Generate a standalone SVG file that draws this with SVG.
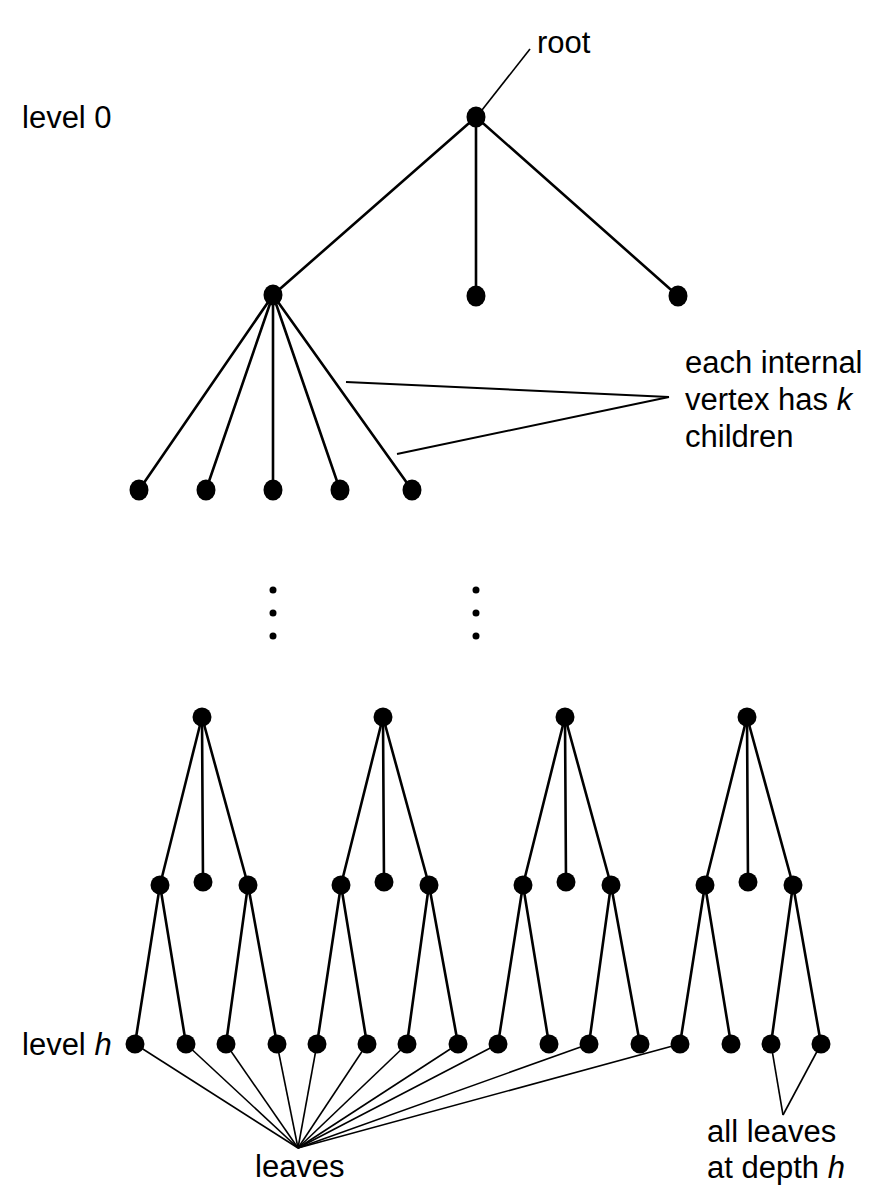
<svg xmlns="http://www.w3.org/2000/svg" width="896" height="1200" viewBox="0 0 896 1200">
<style>
.e{stroke:#000;stroke-width:2.6;fill:none;stroke-linecap:round}
.t{stroke:#000;stroke-width:1.6;fill:none}
.a{stroke:#000;stroke-width:2;fill:none}
.n{fill:#000}
text{font-family:"Liberation Sans",Arial,sans-serif;font-size:31px;fill:#000}
</style>
<rect width="896" height="1200" fill="#fff"/>
<g id="connectors">
<line class="e" x1="476" y1="117" x2="273" y2="295"/>
<line class="e" x1="476" y1="117" x2="476" y2="296"/>
<line class="e" x1="476" y1="117" x2="678" y2="296"/>
<line class="e" x1="273" y1="295" x2="139" y2="490"/>
<line class="e" x1="273" y1="295" x2="206" y2="490"/>
<line class="e" x1="273" y1="295" x2="273" y2="490"/>
<line class="e" x1="273" y1="295" x2="340" y2="490"/>
<line class="e" x1="273" y1="295" x2="412" y2="490"/>
<!-- subtree 1 -->
<line class="e" x1="202" y1="717" x2="160" y2="885"/>
<line class="e" x1="202" y1="717" x2="203" y2="882"/>
<line class="e" x1="202" y1="717" x2="248" y2="885"/>
<line class="e" x1="160" y1="885" x2="135" y2="1044"/>
<line class="e" x1="160" y1="885" x2="186" y2="1044"/>
<line class="e" x1="248" y1="885" x2="226" y2="1044"/>
<line class="e" x1="248" y1="885" x2="277" y2="1044"/>
<!-- subtree 2 -->
<line class="e" x1="383" y1="717" x2="341" y2="885"/>
<line class="e" x1="383" y1="717" x2="384" y2="882"/>
<line class="e" x1="383" y1="717" x2="429" y2="885"/>
<line class="e" x1="341" y1="885" x2="317" y2="1044"/>
<line class="e" x1="341" y1="885" x2="367" y2="1044"/>
<line class="e" x1="429" y1="885" x2="407" y2="1044"/>
<line class="e" x1="429" y1="885" x2="458" y2="1044"/>
<!-- subtree 3 -->
<line class="e" x1="565" y1="717" x2="523" y2="885"/>
<line class="e" x1="565" y1="717" x2="566" y2="882"/>
<line class="e" x1="565" y1="717" x2="611" y2="885"/>
<line class="e" x1="523" y1="885" x2="498" y2="1044"/>
<line class="e" x1="523" y1="885" x2="549" y2="1044"/>
<line class="e" x1="611" y1="885" x2="589" y2="1044"/>
<line class="e" x1="611" y1="885" x2="640" y2="1044"/>
<!-- subtree 4 -->
<line class="e" x1="747" y1="717" x2="705" y2="885"/>
<line class="e" x1="747" y1="717" x2="748" y2="882"/>
<line class="e" x1="747" y1="717" x2="793" y2="885"/>
<line class="e" x1="705" y1="885" x2="680" y2="1044"/>
<line class="e" x1="705" y1="885" x2="731" y2="1044"/>
<line class="e" x1="793" y1="885" x2="771" y2="1044"/>
<line class="e" x1="793" y1="885" x2="821" y2="1044"/>
<!-- annotation pointers -->
<line class="t" x1="530" y1="49" x2="482" y2="110"/>
<line class="a" x1="346" y1="382" x2="669" y2="397"/>
<line class="a" x1="397" y1="454" x2="669" y2="397"/>
<!-- leaves pointers -->
<line class="t" x1="298" y1="1148" x2="135" y2="1044"/>
<line class="t" x1="298" y1="1148" x2="186" y2="1044"/>
<line class="t" x1="298" y1="1148" x2="226" y2="1044"/>
<line class="t" x1="298" y1="1148" x2="277" y2="1044"/>
<line class="t" x1="298" y1="1148" x2="317" y2="1044"/>
<line class="t" x1="298" y1="1148" x2="367" y2="1044"/>
<line class="t" x1="298" y1="1148" x2="407" y2="1044"/>
<line class="t" x1="298" y1="1148" x2="458" y2="1044"/>
<line class="t" x1="298" y1="1148" x2="498" y2="1044"/>
<line class="t" x1="298" y1="1148" x2="589" y2="1044"/>
<line class="t" x1="298" y1="1148" x2="680" y2="1044"/>
<line class="t" x1="783" y1="1115" x2="771" y2="1044"/>
<line class="t" x1="783" y1="1115" x2="821" y2="1044"/>
</g>
<g id="dots">
<circle class="n" cx="273" cy="590" r="3.5"/>
<circle class="n" cx="273" cy="613" r="3.5"/>
<circle class="n" cx="273" cy="636" r="3.5"/>
<circle class="n" cx="476" cy="590" r="3.5"/>
<circle class="n" cx="476" cy="613" r="3.5"/>
<circle class="n" cx="476" cy="636" r="3.5"/>
</g>
<g id="root"><ellipse class="n" cx="476" cy="117" rx="9.5" ry="10.5"/></g>
<g id="l1a"><ellipse class="n" cx="273" cy="295" rx="9.5" ry="10.5"/></g>
<g id="l1b"><ellipse class="n" cx="476" cy="296" rx="9.5" ry="10.5"/></g>
<g id="l1c"><ellipse class="n" cx="678" cy="296" rx="9.5" ry="10.5"/></g>
<g id="l2a"><ellipse class="n" cx="139" cy="490" rx="9.5" ry="10.5"/></g>
<g id="l2b"><ellipse class="n" cx="206" cy="490" rx="9.5" ry="10.5"/></g>
<g id="l2c"><ellipse class="n" cx="273" cy="490" rx="9.5" ry="10.5"/></g>
<g id="l2d"><ellipse class="n" cx="340" cy="490" rx="9.5" ry="10.5"/></g>
<g id="l2e"><ellipse class="n" cx="412" cy="490" rx="9.5" ry="10.5"/></g>
<g id="s1">
<circle class="n" cx="202" cy="717" r="9.5"/>
<circle class="n" cx="160" cy="885" r="9.5"/>
<circle class="n" cx="203" cy="882" r="9.5"/>
<circle class="n" cx="248" cy="885" r="9.5"/>
<circle class="n" cx="135" cy="1044" r="9.5"/>
<circle class="n" cx="186" cy="1044" r="9.5"/>
<circle class="n" cx="226" cy="1044" r="9.5"/>
<circle class="n" cx="277" cy="1044" r="9.5"/>
</g>
<g id="s2">
<circle class="n" cx="383" cy="717" r="9.5"/>
<circle class="n" cx="341" cy="885" r="9.5"/>
<circle class="n" cx="384" cy="882" r="9.5"/>
<circle class="n" cx="429" cy="885" r="9.5"/>
<circle class="n" cx="317" cy="1044" r="9.5"/>
<circle class="n" cx="367" cy="1044" r="9.5"/>
<circle class="n" cx="407" cy="1044" r="9.5"/>
<circle class="n" cx="458" cy="1044" r="9.5"/>
</g>
<g id="s3">
<circle class="n" cx="565" cy="717" r="9.5"/>
<circle class="n" cx="523" cy="885" r="9.5"/>
<circle class="n" cx="566" cy="882" r="9.5"/>
<circle class="n" cx="611" cy="885" r="9.5"/>
<circle class="n" cx="498" cy="1044" r="9.5"/>
<circle class="n" cx="549" cy="1044" r="9.5"/>
<circle class="n" cx="589" cy="1044" r="9.5"/>
<circle class="n" cx="640" cy="1044" r="9.5"/>
</g>
<g id="s4">
<circle class="n" cx="747" cy="717" r="9.5"/>
<circle class="n" cx="705" cy="885" r="9.5"/>
<circle class="n" cx="748" cy="882" r="9.5"/>
<circle class="n" cx="793" cy="885" r="9.5"/>
<circle class="n" cx="680" cy="1044" r="9.5"/>
<circle class="n" cx="731" cy="1044" r="9.5"/>
<circle class="n" cx="771" cy="1044" r="9.5"/>
<circle class="n" cx="821" cy="1044" r="9.5"/>
</g>
<g id="labels">
<text x="537" y="53">root</text>
<text x="22" y="128">level 0</text>
<text x="685" y="373">each internal</text>
<text x="685" y="410">vertex has <tspan font-style="italic">k</tspan></text>
<text x="685" y="447">children</text>
<text x="22" y="1055">level <tspan font-style="italic">h</tspan></text>
<text x="255" y="1177">leaves</text>
<text x="707" y="1142">all leaves</text>
<text x="707" y="1178">at depth <tspan font-style="italic">h</tspan></text>
</g>
</svg>
